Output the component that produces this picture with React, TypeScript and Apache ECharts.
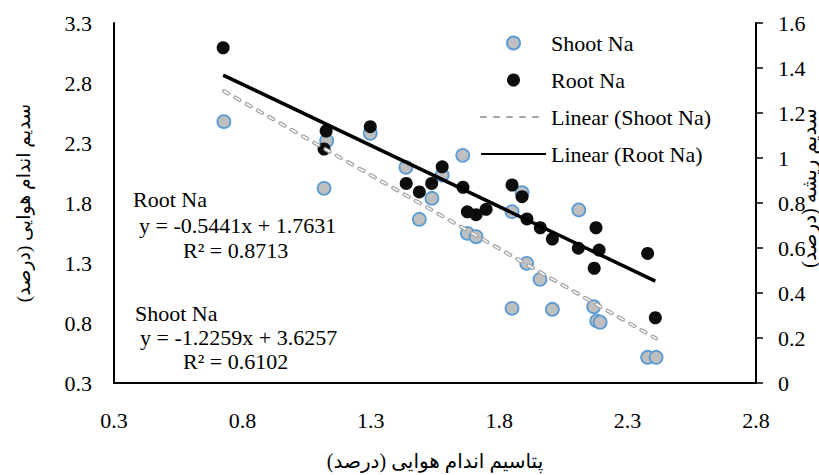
import React, { useEffect, useRef } from "react";
import * as echarts from "echarts";

// ---- data ----
const shootK = [0.728, 1.128, 1.298, 1.118, 1.437, 1.578, 1.538, 1.489, 1.658, 1.676, 1.71, 1.889, 1.85, 1.907, 1.959, 1.85, 2.007, 2.11, 2.168, 2.18, 2.193, 2.378, 2.411];
const shootNa = [2.478, 2.319, 2.381, 1.922, 2.097, 2.033, 1.839, 1.664, 2.197, 1.547, 1.519, 1.886, 1.728, 1.297, 1.164, 0.922, 0.914, 1.742, 0.936, 0.817, 0.806, 0.514, 0.514];
const rootK = [0.725, 1.126, 1.118, 1.298, 1.438, 1.578, 1.489, 1.537, 1.659, 1.676, 1.71, 1.749, 1.85, 1.889, 1.908, 1.96, 2.007, 2.108, 2.177, 2.189, 2.17, 2.378, 2.408];
const rootNa = [1.49, 1.12, 1.04, 1.139, 0.887, 0.961, 0.849, 0.887, 0.87, 0.761, 0.748, 0.772, 0.88, 0.828, 0.729, 0.69, 0.64, 0.599, 0.69, 0.591, 0.51, 0.576, 0.29];

// trendline equations shown on the chart
const shootSlope = -1.2259;
const shootIntercept = 3.6257;
const shootR2 = 0.6102;
const rootSlope = -0.5441;
const rootIntercept = 1.7631;
const rootR2 = 0.8713;

// tick labels
const xTicks = [0.3, 0.8, 1.3, 1.8, 2.3, 2.8];
const yLeftTicks = [0.3, 0.8, 1.3, 1.8, 2.3, 2.8, 3.3];

const seriesNames = ["Shoot Na", "Root Na", "Linear (Shoot Na)", "Linear (Root Na)"];
const xAxisName = "پتاسیم اندام هوایی (درصد)";
const yLeftName = "سدیم اندام هوایی (درصد)";
const yRightName = "سدیم ریشه (درصد)";

const SERIF = "Liberation Serif";
const PERSIAN = "Liberation Serif, DejaVu Sans";

function trend(xs: number[], slope: number, intercept: number) {
  const lo = Math.min(...xs);
  const hi = Math.max(...xs);
  return [
    [lo, slope * lo + intercept],
    [hi, slope * hi + intercept],
  ];
}

const eqText = (slope: number, intercept: number) =>
  `y = ${slope.toFixed(4)}x + ${intercept.toFixed(4)}`;

export default function App() {
  const ref = useRef<HTMLDivElement>(null);

  useEffect(() => {
    if (!ref.current) return;
    const chart = echarts.init(ref.current, null, { renderer: "svg" });
    const shootPts = shootK.map((x, i) => [x, shootNa[i]]);
    const rootPts = rootK.map((x, i) => [x, rootNa[i]]);
    const shootTrend = trend(shootK, shootSlope, shootIntercept);
    const rootTrend = trend(rootK, rootSlope, rootIntercept);

    const ann = (text: string, x: number, y: number) => ({
      type: "text",
      x,
      y,
      silent: true,
      style: {
        text,
        fontFamily: SERIF,
        fontSize: 22,
        fill: "#000",
        align: "left",
        verticalAlign: "middle",
      },
    });

    const hiddenSymbol = { opacity: 0, color: "rgba(0,0,0,0)", borderColor: "rgba(0,0,0,0)", borderWidth: 0 };

    chart.setOption({
      animation: false,
      backgroundColor: "#fff",
      grid: { left: 114, right: 63, top: 23, bottom: 92, containLabel: false, outerBoundsMode: "none" },
      legend: {
        orient: "vertical",
        left: 480,
        top: 32,
        padding: 0,
        itemWidth: 65,
        itemHeight: 13,
        itemGap: 15,
        data: [
          { name: seriesNames[0] },
          { name: seriesNames[1] },
          { name: seriesNames[2], itemStyle: hiddenSymbol },
          { name: seriesNames[3], itemStyle: hiddenSymbol },
        ],
        textStyle: { fontFamily: SERIF, fontSize: 22, lineHeight: 22, color: "#000" },
      },
      xAxis: {
        type: "value",
        min: 0.3,
        max: 2.8,
        name: xAxisName,
        nameLocation: "middle",
        nameGap: 68,
        nameMoveOverlap: false,
        nameTextStyle: { fontFamily: PERSIAN, fontSize: 20, color: "#000" },
        axisLine: { show: true, onZero: false, lineStyle: { color: "#000", width: 2 } },
        axisTick: { show: false },
        splitLine: { show: false },
        axisLabel: {
          customValues: xTicks,
          margin: 26,
          fontFamily: SERIF,
          fontSize: 22,
          color: "#000",
          formatter: (v: number) => String(v),
        },
      },
      yAxis: [
        {
          type: "value",
          min: 0.3,
          max: 3.3,
          position: "left",
          name: yLeftName,
          nameLocation: "middle",
          nameGap: 81,
          nameMoveOverlap: false,
          nameTextStyle: { fontFamily: PERSIAN, fontSize: 19, color: "#000" },
          axisLine: { show: true, onZero: false, lineStyle: { color: "#000", width: 2 } },
          axisTick: { show: false },
          splitLine: { show: false },
          axisLabel: {
            customValues: yLeftTicks,
            margin: 22,
            fontFamily: SERIF,
            fontSize: 22,
            color: "#000",
            formatter: (v: number) => String(v),
          },
        },
        {
          type: "value",
          min: 0,
          max: 1.6,
          interval: 0.2,
          position: "right",
          name: yRightName,
          nameLocation: "middle",
          nameGap: 43,
          nameMoveOverlap: false,
          nameTextStyle: { fontFamily: PERSIAN, fontSize: 20, color: "#000", padding: [0, 0, 0, 30] },
          axisLine: { show: true, onZero: false, lineStyle: { color: "#000", width: 2 } },
          axisTick: { show: true, inside: false, length: 7, lineStyle: { color: "#000", width: 1.5 } },
          splitLine: { show: false },
          axisLabel: { margin: 22, fontFamily: SERIF, fontSize: 22, color: "#000" },
        },
      ],
      series: [
        {
          name: seriesNames[0],
          type: "scatter",
          yAxisIndex: 0,
          data: shootPts,
          symbol: "circle",
          symbolSize: 13,
          itemStyle: { color: "#BFBFBF", borderColor: "#5B9BD5", borderWidth: 1.8, opacity: 1 },
          z: 2,
        },
        {
          name: seriesNames[1],
          type: "scatter",
          yAxisIndex: 1,
          data: rootPts,
          symbol: "circle",
          symbolSize: 13,
          itemStyle: { color: "#0D0D0D", opacity: 1 },
          z: 3,
        },
        {
          name: seriesNames[2],
          type: "line",
          yAxisIndex: 0,
          data: shootTrend,
          symbol: "none",
          showSymbol: false,
          silent: true,
          lineStyle: { color: "#A6A6A6", width: 4, type: [5, 8], cap: "round" },
          z: 4,
        },
        {
          name: "shoot-trend-inner",
          type: "line",
          yAxisIndex: 0,
          data: shootTrend,
          symbol: "none",
          showSymbol: false,
          silent: true,
          lineStyle: { color: "#FFFFFF", width: 1.5, type: [5, 8], cap: "round" },
          z: 5,
        },
        {
          name: seriesNames[3],
          type: "line",
          yAxisIndex: 1,
          data: rootTrend,
          symbol: "none",
          showSymbol: false,
          silent: true,
          lineStyle: { color: "#000", width: 3.5, type: "solid" },
          z: 6,
        },
      ],
      graphic: [
        ann("Root Na", 133, 199),
        ann(eqText(rootSlope, rootIntercept), 139, 225),
        ann(`R² = ${rootR2.toFixed(4)}`, 183, 250),
        ann("Shoot Na", 135, 313),
        ann(eqText(shootSlope, shootIntercept), 140, 337),
        ann(`R² = ${shootR2.toFixed(4)}`, 183, 361),
      ],
    });
    return () => chart.dispose();
  }, []);

  return (
    <div
      ref={ref}
      style={{ position: "absolute", left: 0, top: 0, width: 819, height: 475, background: "#fff" }}
    />
  );
}
